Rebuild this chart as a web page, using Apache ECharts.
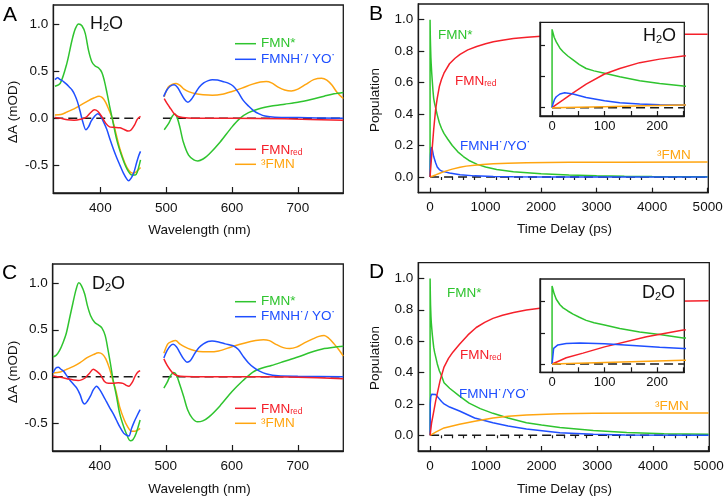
<!DOCTYPE html>
<html><head><meta charset="utf-8">
<script src="https://cdn.jsdelivr.net/npm/echarts@6/dist/echarts.min.js"></script>
<style>html,body{margin:0;padding:0;background:#fff}#c{width:727px;height:500px}</style>
</head><body><div id="c"></div>
<script>
// ---------- Panel A (H2O) spectra: [wavelength nm, dA mOD] ----------
const specH2O_FMNstar_L = [[331,0.34],[339,0.37],[349,0.58],[357,0.83],[362,0.95],[367,1.0],[372,0.98],[377,0.9],[382,0.72],[387,0.6],[392,0.555],[397,0.535],[402,0.49],[406,0.4],[410,0.27],[414,0.13],[418,0.0],[425,-0.23],[433,-0.41],[440,-0.53],[448,-0.6],[453,-0.6],[456,-0.57],[461,-0.44]];
const specH2O_FMNstar_R = [[497,-0.12],[504,-0.05],[509,0.02],[513,0.045],[517,0.0],[521,-0.1],[526,-0.25],[534,-0.39],[542,-0.44],[548,-0.45],[556,-0.43],[565,-0.38],[582,-0.25],[600,-0.09],[612,0.0],[625,0.06],[640,0.1],[660,0.13],[680,0.15],[700,0.17],[720,0.2],[740,0.235],[755,0.26],[769,0.275]];
const specH2O_rad_L = [[331,0.41],[335,0.43],[339,0.41],[344,0.39],[349,0.36],[353,0.33],[357,0.3],[361,0.25],[365,0.18],[369,0.08],[373,-0.03],[378,-0.12],[382,-0.09],[386,-0.03],[391,0.02],[396,0.05],[400,0.03],[405,-0.04],[410,-0.12],[415,-0.23],[420,-0.33],[425,-0.42],[430,-0.5],[435,-0.58],[440,-0.64],[443,-0.66],[447,-0.63],[451,-0.57],[455,-0.47],[458,-0.4],[461,-0.35]];
const specH2O_rad_R = [[496,0.23],[501,0.3],[506,0.34],[512,0.355],[517,0.33],[522,0.27],[528,0.2],[533,0.17],[538,0.2],[544,0.265],[550,0.33],[557,0.375],[564,0.4],[570,0.41],[578,0.405],[586,0.39],[595,0.37],[602,0.34],[609,0.28],[617,0.19],[625,0.13],[633,0.08],[642,0.045],[650,0.025],[665,0.012],[700,0.008],[769,0.0]];
const specH2O_red_L = [[331,0.01],[340,0.0],[350,-0.015],[360,-0.02],[370,-0.01],[378,0.01],[385,0.06],[391,0.09],[396,0.075],[402,0.02],[408,-0.05],[414,-0.09],[420,-0.095],[430,-0.1],[437,-0.12],[442,-0.135],[447,-0.12],[452,-0.07],[456,-0.01],[461,0.02]];
const specH2O_red_R = [[497,0.21],[502,0.15],[507,0.1],[512,0.05],[518,0.02],[525,0.008],[540,0.0],[600,0.0],[680,-0.005],[769,-0.02]];
const specH2O_trip_L = [[331,0.035],[340,0.04],[350,0.07],[360,0.1],[370,0.14],[380,0.18],[390,0.215],[398,0.235],[403,0.22],[408,0.17],[413,0.09],[418,0.0],[423,-0.14],[430,-0.33],[437,-0.47],[443,-0.55],[449,-0.58],[453,-0.575],[457,-0.55],[461,-0.52]];
const specH2O_trip_R = [[497,0.23],[503,0.33],[509,0.36],[515,0.37],[521,0.35],[527,0.31],[535,0.28],[545,0.26],[556,0.25],[570,0.245],[585,0.255],[600,0.285],[615,0.32],[630,0.36],[643,0.385],[652,0.39],[660,0.375],[670,0.33],[680,0.3],[690,0.29],[700,0.31],[712,0.36],[724,0.41],[736,0.425],[744,0.405],[752,0.35],[760,0.27],[769,0.21]];

// ---------- Panel C (D2O) spectra ----------
const specD2O_FMNstar_L = [[329,0.21],[334,0.23],[339,0.28],[344,0.36],[349,0.46],[354,0.62],[359,0.78],[364,0.93],[368,1.0],[372,0.97],[377,0.88],[381,0.76],[386,0.65],[392,0.58],[398,0.55],[403,0.52],[408,0.44],[412,0.3],[416,0.14],[420,-0.03],[425,-0.2],[430,-0.39],[436,-0.53],[441,-0.62],[446,-0.68],[450,-0.67],[455,-0.6],[461,-0.46]];
const specD2O_FMNstar_R = [[497,-0.12],[502,-0.06],[506,0.0],[512,0.045],[516,0.02],[521,-0.08],[527,-0.21],[533,-0.35],[540,-0.44],[548,-0.48],[556,-0.47],[565,-0.43],[582,-0.31],[600,-0.16],[617,-0.04],[632,0.05],[645,0.09],[660,0.12],[680,0.165],[700,0.21],[720,0.26],[740,0.3],[755,0.315],[769,0.325]];
const specD2O_rad_L = [[329,0.04],[333,0.09],[337,0.1],[341,0.08],[345,0.06],[350,0.01],[355,-0.04],[360,-0.08],[365,-0.12],[370,-0.19],[374,-0.27],[377,-0.29],[381,-0.26],[386,-0.2],[390,-0.14],[395,-0.1],[400,-0.14],[405,-0.2],[410,-0.265],[415,-0.33],[420,-0.39],[425,-0.46],[430,-0.53],[436,-0.6],[440,-0.62],[444,-0.63],[448,-0.55],[452,-0.48],[456,-0.42],[461,-0.35]];
const specD2O_rad_R = [[497,0.2],[502,0.28],[507,0.33],[511,0.345],[516,0.32],[521,0.26],[527,0.19],[532,0.155],[537,0.17],[544,0.25],[550,0.31],[557,0.35],[564,0.375],[570,0.38],[580,0.37],[590,0.35],[602,0.33],[610,0.29],[618,0.21],[625,0.15],[633,0.1],[642,0.06],[653,0.03],[670,0.01],[700,0.005],[769,0.0]];
const specD2O_red_L = [[329,0.007],[340,-0.005],[350,-0.02],[360,-0.035],[367,-0.04],[373,-0.03],[378,-0.01],[384,0.035],[390,0.08],[395,0.06],[401,0.02],[407,-0.05],[413,-0.07],[420,-0.07],[428,-0.065],[435,-0.07],[441,-0.095],[444,-0.1],[449,-0.06],[453,0.0],[457,0.045],[461,0.065]];
const specD2O_red_R = [[497,0.19],[502,0.12],[507,0.07],[512,0.03],[518,0.01],[528,0.003],[560,0.0],[650,0.0],[700,-0.005],[769,-0.02]];
const specD2O_trip_L = [[329,0.04],[340,0.05],[350,0.08],[360,0.11],[370,0.15],[380,0.2],[390,0.235],[398,0.255],[404,0.24],[409,0.19],[414,0.1],[419,-0.02],[424,-0.14],[430,-0.32],[437,-0.46],[442,-0.53],[448,-0.58],[453,-0.58],[458,-0.565],[461,-0.55]];
const specD2O_trip_R = [[497,0.25],[503,0.35],[509,0.375],[515,0.385],[521,0.35],[528,0.32],[538,0.29],[550,0.27],[565,0.265],[580,0.275],[600,0.32],[620,0.36],[636,0.385],[648,0.395],[657,0.385],[667,0.345],[678,0.31],[688,0.3],[698,0.315],[710,0.36],[722,0.4],[732,0.43],[740,0.44],[747,0.41],[755,0.35],[762,0.29],[769,0.22]];

// ---------- Panel B (H2O) populations: [time ps, population] ----------
const popH2O_FMNstar = [[0,0],[0,1.0],[4,0.9],[8,0.84],[15,0.76],[21,0.715],[30,0.66],[40,0.61],[52,0.55],[65,0.5],[80,0.47],[100,0.44],[129,0.395],[167,0.345],[205,0.31],[250,0.277],[320,0.24],[400,0.2],[500,0.16],[600,0.13],[700,0.105],[850,0.08],[1000,0.063],[1200,0.048],[1500,0.033],[2000,0.02],[2500,0.012],[3000,0.008],[3500,0.005],[4000,0.003],[5000,0.001]];
const popH2O_rad = [[0,0],[2,0.055],[5,0.11],[8,0.14],[15,0.175],[24,0.19],[40,0.175],[65,0.13],[100,0.09],[129,0.064],[167,0.047],[205,0.038],[250,0.034],[350,0.025],[540,0.014],[800,0.007],[1140,0.003],[1500,0.001],[2000,0],[5000,0]];
const popH2O_red = [[0,0],[8,0.04],[21,0.1],[40,0.19],[65,0.3],[100,0.43],[129,0.5],[167,0.575],[205,0.62],[250,0.66],[350,0.72],[450,0.755],[540,0.78],[680,0.808],[840,0.83],[1000,0.847],[1140,0.86],[1300,0.87],[1500,0.88],[1750,0.889],[2000,0.895],[2500,0.902],[3000,0.905],[4000,0.908],[5000,0.908]];
const popH2O_trip = [[0,0],[50,0.006],[100,0.013],[175,0.024],[250,0.034],[400,0.05],[540,0.062],[650,0.069],[800,0.075],[950,0.08],[1140,0.084],[1400,0.087],[1740,0.09],[2500,0.093],[3500,0.094],[5000,0.095]];

// ---------- Panel D (D2O) populations ----------
const popD2O_FMNstar = [[0,0],[0,1.0],[4,0.9],[8,0.83],[15,0.76],[21,0.72],[30,0.68],[40,0.64],[52,0.6],[65,0.56],[80,0.53],[100,0.5],[129,0.455],[167,0.41],[205,0.38],[250,0.335],[350,0.3],[528,0.25],[700,0.205],[900,0.17],[1128,0.14],[1400,0.11],[1729,0.08],[2000,0.065],[2329,0.05],[2929,0.03],[3529,0.018],[4200,0.01],[5000,0.006]];
const popD2O_rad = [[0,0],[3,0.2],[11,0.245],[27,0.262],[53,0.27],[100,0.26],[154,0.237],[205,0.215],[250,0.2],[350,0.18],[528,0.155],[800,0.11],[1128,0.08],[1400,0.06],[1729,0.04],[2329,0.017],[2929,0.006],[3500,0.002],[5000,0]];
const popD2O_red = [[0,0],[10,0.03],[27,0.08],[59,0.14],[100,0.22],[180,0.35],[250,0.435],[330,0.49],[408,0.53],[528,0.58],[680,0.64],[828,0.687],[980,0.72],[1128,0.745],[1300,0.765],[1500,0.783],[1729,0.798],[1970,0.81],[2500,0.828],[3000,0.84],[4000,0.852],[5000,0.857]];
const popD2O_trip = [[0,0],[100,0.02],[250,0.047],[528,0.07],[800,0.09],[1128,0.11],[1400,0.121],[1729,0.13],[2329,0.137],[2929,0.14],[4000,0.142],[5000,0.142]];

// ---------- ticks ----------
const specXTicks = [400,500,600,700];
const specYTicks = [-0.5,0,0.5,1.0];
const popXTicks = [0,1000,2000,3000,4000,5000];
const popXMinor = [200,400,600,800,1200,1400,1600,1800,2200,2400,2600,2800,3200,3400,3600,3800,4200,4400,4600,4800];
const popYTicks = [0,0.2,0.4,0.6,0.8,1.0];
const insetXTicks = [0,50,100,150,200,250];
const insetXLabels = [0,100,200];
const insetYTicks = [0,0.4,0.8];

const GREEN='#2fc42f', BLUE='#1f4fff', RED='#f5202a', ORANGE='#ffa510', BLK='#1a1a1a';
const FONT="'Liberation Sans', Arial, sans-serif";

function ax(gi, min, max, ticks, labels, fmt, o){
  o=o||{};
  return Object.assign({type:'value', gridIndex:gi, min:min, max:max, splitLine:{show:false},
    axisLine:{show:true, onZero:false, lineStyle:{color:BLK, width:1.3}},
    axisTick:{show:true, inside:true, length:o.tl||6, customValues:ticks, lineStyle:{color:BLK, width:1.2}},
    axisLabel:{show:labels!==null, customValues:labels||[], formatter:fmt, color:'#111', fontSize:o.fs||13.5, fontFamily:FONT, margin:o.margin==null?6:o.margin},
    z:o.z||0}, o.extra||{});
}
const f1 = v => Number(v).toFixed(1);
const f0 = v => String(Math.round(v));

const grids = [
  {left:53.3, top:5, width:290, height:188},
  {left:418.3, top:4, width:290, height:188.7},
  {left:540, top:22.3, width:144.3, height:93.7, z:5},
  {left:52.7, top:264, width:290.6, height:187},
  {left:418.3, top:262.7, width:291, height:188.3},
  {left:540, top:279, width:144.3, height:93.3, z:5}
].map(g => Object.assign({show:true, borderColor:BLK, borderWidth:1.3, backgroundColor:'#fff'}, g));

const xAxis = [
  ax(0, 328.5, 769, specXTicks, specXTicks, f0, {margin:8}),
  ax(1, -212, 5012, popXTicks, popXTicks, f0, {margin:8, tl:5}),
  ax(1, -212, 5012, popXMinor, null, f0, {tl:3, extra:{axisLine:{show:false}}}),
  ax(2, -23, 252, insetXTicks, insetXLabels, f0, {margin:4, tl:5, fs:13, z:6}),
  ax(3, 328.5, 769, specXTicks, specXTicks, f0, {margin:8}),
  ax(4, -212, 5012, popXTicks, popXTicks, f0, {margin:8, tl:5}),
  ax(4, -212, 5012, popXMinor, null, f0, {tl:3, extra:{axisLine:{show:false}}}),
  ax(5, -23, 252, insetXTicks, insetXLabels, f0, {margin:4, tl:5, fs:13, z:6})
];
const yAxis = [
  ax(0, -0.79, 1.2, specYTicks, specYTicks, f1, {margin:5}),
  ax(1, -0.1, 1.1, popYTicks, popYTicks, f1, {margin:5}),
  ax(2, -0.106, 1.09, insetYTicks, null, f1, {tl:5, z:6}),
  ax(3, -0.79, 1.2, specYTicks, specYTicks, f1, {margin:5}),
  ax(4, -0.1, 1.1, popYTicks, popYTicks, f1, {margin:5}),
  ax(5, -0.106, 1.09, insetYTicks, null, f1, {tl:5, z:6})
];

function ln(data, color, xi, yi, opt){
  opt=opt||{};
  return {type:'line', data:data, xAxisIndex:xi, yAxisIndex:yi, symbol:'none', showSymbol:false,
    smooth:opt.smooth||false, silent:true, animation:false, z:opt.z||2,
    lineStyle:{color:color, width:opt.w||1.5, type:opt.type||'solid'}, itemStyle:{color:color}};
}
const dash = (x0,x1,xi,yi,z) => ln([[x0,0],[x1,0]], BLK, xi, yi, {type:[9,5], w:1.5, z:z||1});

const series = [];
// Panel A
series.push(dash(330,460,0,0), dash(495,769,0,0));
[[specH2O_trip_L,specH2O_trip_R,ORANGE],[specH2O_FMNstar_L,specH2O_FMNstar_R,GREEN],[specH2O_rad_L,specH2O_rad_R,BLUE],[specH2O_red_L,specH2O_red_R,RED]].forEach(s=>{
  series.push(ln(s[0],s[2],0,0,{smooth:0.3}), ln(s[1],s[2],0,0,{smooth:0.3}));
});
// Panel C
series.push(dash(330,460,4,3), dash(495,769,4,3));
[[specD2O_trip_L,specD2O_trip_R,ORANGE],[specD2O_FMNstar_L,specD2O_FMNstar_R,GREEN],[specD2O_rad_L,specD2O_rad_R,BLUE],[specD2O_red_L,specD2O_red_R,RED]].forEach(s=>{
  series.push(ln(s[0],s[2],4,3,{smooth:0.3}), ln(s[1],s[2],4,3,{smooth:0.3}));
});
// Panel B main + inset
series.push(dash(0,5000,1,1));
[[popH2O_FMNstar,GREEN],[popH2O_rad,BLUE],[popH2O_trip,ORANGE],[popH2O_red,RED]].forEach(s=>series.push(ln(s[0],s[1],1,1)));
series.push(dash(0,252,3,2,6));
[[popH2O_FMNstar,GREEN],[popH2O_red,RED],[popH2O_rad,BLUE],[popH2O_trip,ORANGE]].forEach(s=>series.push(ln(s[0],s[1],3,2,{z:7})));
// Panel D main + inset
series.push(dash(0,5000,5,4));
[[popD2O_FMNstar,GREEN],[popD2O_rad,BLUE],[popD2O_trip,ORANGE],[popD2O_red,RED]].forEach(s=>series.push(ln(s[0],s[1],5,4)));
series.push(dash(0,252,7,5,6));
[[popD2O_FMNstar,GREEN],[popD2O_red,RED],[popD2O_rad,BLUE],[popD2O_trip,ORANGE]].forEach(s=>series.push(ln(s[0],s[1],7,5,{z:7})));

// ---------- text / legend graphics ----------
const G = [];
function txt(x,y,text,fill,size,opt){
  opt=opt||{};
  G.push({type:'text', x:x, y:y, rotation:opt.rot||0, z:100, silent:true,
    style:{x:0,y:0,text:text, fill:fill, font:(opt.weight||'normal')+' '+size+'px '+FONT,
      align:opt.align||'left', textAlign:opt.align||'left', verticalAlign:'middle', textVerticalAlign:'middle'}});
}
function sub(main, s, fill, size, ssize){
  return {text:'{a|'+main+'}{s|'+s+'}', rich:{a:{fill:fill, fontSize:size, fontFamily:FONT, verticalAlign:'bottom', lineHeight:size*1.2},
    s:{fill:fill, fontSize:ssize, fontFamily:FONT, verticalAlign:'bottom', lineHeight:ssize*1.1}}};
}
function richTxt(x,y,parts,rot,align){
  G.push({type:'text', x:x, y:y, rotation:rot||0, z:100, silent:true,
    style:{x:0,y:0,text:parts.text, rich:parts.rich, align:align||'left', textAlign:align||'left', verticalAlign:'middle', textVerticalAlign:'middle'}});
}
function solvent(x,y,el){
  richTxt(x,y,{text:'{a|'+el+'}{s|2}{a|O}', rich:{a:{fill:'#111', fontSize:18, fontFamily:FONT, verticalAlign:'bottom', lineHeight:20},
    s:{fill:'#111', fontSize:11, fontFamily:FONT, verticalAlign:'bottom', lineHeight:15}}});
}
function seg(x1,x2,y,color){ G.push({type:'line', z:100, silent:true, shape:{x1:x1,y1:y,x2:x2,y2:y}, style:{stroke:color, lineWidth:1.5}}); }

// panel letters
txt(3,15,'A','#000',21); txt(369,14,'B','#000',21); txt(2,273,'C','#000',21); txt(369,272,'D','#000',21);
// solvent labels
solvent(90,23,'H'); solvent(92,283,'D'); solvent(643,35,'H'); solvent(642,292,'D');
// axis titles
txt(13.5,112,'ΔA (mOD)','#111',13.5,{rot:Math.PI/2,align:'center'});
txt(13.5,372,'ΔA (mOD)','#111',13.5,{rot:Math.PI/2,align:'center'});
txt(375,100,'Population','#111',13.5,{rot:Math.PI/2,align:'center'});
txt(375,358,'Population','#111',13.5,{rot:Math.PI/2,align:'center'});
txt(199.5,230,'Wavelength (nm)','#111',13.5,{align:'center'});
txt(199.5,489,'Wavelength (nm)','#111',13.5,{align:'center'});
txt(564.5,229,'Time Delay (ps)','#111',13.5,{align:'center'});
txt(564.5,489,'Time Delay (ps)','#111',13.5,{align:'center'});
// legends A & C
[[0,[43.7,59.3,149.3,164.3]],[1,[301.7,316.7,408.3,423.3]]].forEach(p=>{
  const ys=p[1];
  seg(235,256,ys[0],GREEN); txt(261,ys[0],'FMN*',GREEN,13.5);
  seg(235,256,ys[1],BLUE); txt(261,ys[1],'FMNH˙/ YO˙',BLUE,13.5);
  seg(235,256,ys[2],RED); richTxt(261,ys[2],sub('FMN','red',RED,13.5,8.5));
  seg(235,256,ys[3],ORANGE); txt(261,ys[3],'³FMN',ORANGE,13.5);
});
// curve labels B & D
txt(438,35,'FMN*',GREEN,13.5); richTxt(455,80,sub('FMN','red',RED,13.5,8.5));
txt(460,146,'FMNH˙/YO˙',BLUE,13.5); txt(657,155,'³FMN',ORANGE,13.5);
txt(447,293,'FMN*',GREEN,13.5); richTxt(460,354,sub('FMN','red',RED,13.5,8.5));
txt(459,394,'FMNH˙/YO˙',BLUE,13.5); txt(655,406,'³FMN',ORANGE,13.5);

const chart = echarts.init(document.getElementById('c'), null, {renderer:'canvas'});
chart.setOption({animation:false, backgroundColor:'#fff', grid:grids, xAxis:xAxis, yAxis:yAxis, series:series, graphic:{elements:G}});
</script></body></html>
